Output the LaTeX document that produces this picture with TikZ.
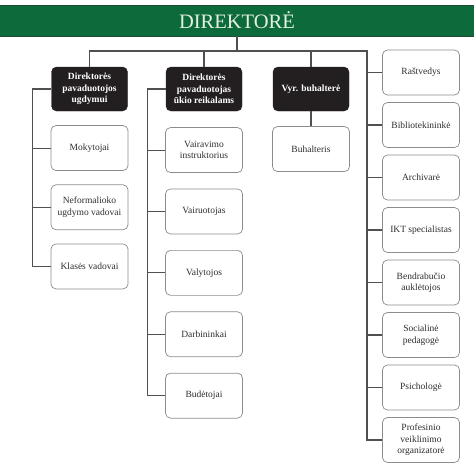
\documentclass[tikz,border=0pt]{standalone}
\usepackage{fontspec}
\setmainfont{Liberation Serif}
\usepackage{tikz}
\usetikzlibrary{positioning}

\definecolor{dirgreen}{HTML}{0D6B3B}
\definecolor{dirframe}{HTML}{1F4A33}
\definecolor{headtext}{HTML}{E6EFE2}
\definecolor{chief}{HTML}{231F20}
\definecolor{boxline}{HTML}{8C8C8C}
\definecolor{linkline}{HTML}{505050}
\definecolor{stafftext}{HTML}{2E2E2E}

\tikzset{
  head/.style={draw=dirframe, fill=dirgreen, line width=0.8pt, minimum width=478pt,
    minimum height=31pt, text=headtext, font=\fontsize{20.5}{24}\selectfont},
  chiefbox/.style={draw=chief, fill=chief, rounded corners=5pt, minimum width=76pt,
    minimum height=44pt, inner sep=2pt, align=center, text=white,
    font=\fontsize{9.5}{11.5}\selectfont\bfseries},
  staffbox/.style={draw=boxline, fill=white, line width=0.7pt, rounded corners=5pt,
    minimum width=77pt, minimum height=45pt, inner sep=2pt, align=center,
    text=stafftext, font=\fontsize{9.5}{11.5}\selectfont},
  link/.style={draw=linkline, line width=1.1pt},
}

\begin{document}
\begin{tikzpicture}[x=1pt, y=-1pt, node distance=15.7pt]
	\useasboundingbox (0,0) rectangle (474,474);

	\node[head]     (DIR)  at (237,20.5) {DIREKTORĖ};
	\node[chiefbox] (UGD)  at (89.5,89)  {Direktorės\\pavaduotojos\\ugdymui};
	\node[chiefbox] (UKIO) at (204,89)   {Direktorės\\pavaduotojas\\ūkio reikalams};
	\node[chiefbox] (BUH)  at (311,89)   {Vyr. buhalterė};

	% ugdymas
	\node[staffbox] (MOK) [below=14pt of UGD]   {Mokytojai};
	\node[staffbox] (NEF) [below=13.5pt of MOK] {Neformalioko\\ugdymo vadovai};
	\node[staffbox] (KLA) [below=13.5pt of NEF] {Klasės vadovai};

	% ukio reikalai
	\node[staffbox] (VAI) [below=16pt of UKIO] {Vairavimo\\instruktorius};
	\node[staffbox] (VAR) [below=of VAI] {Vairuotojas};
	\node[staffbox] (VAL) [below=of VAR] {Valytojos};
	\node[staffbox] (DAR) [below=of VAL] {Darbininkai};
	\node[staffbox] (BUD) [below=of DAR] {Budėtojai};

	\node[staffbox] (BHL) [below=15pt of BUH] {Buhalteris};

	% tiesiogiai direktorei
	\node[staffbox] (RAS) at (421,72.5)        {Raštvedys};
	\node[staffbox] (BIB) [below=6.8pt of RAS] {Bibliotekininkė};
	\node[staffbox] (ARC) [below=6.8pt of BIB] {Archivarė};
	\node[staffbox] (IKT) [below=6.8pt of ARC] {IKT specialistas};
	\node[staffbox] (BEN) [below=6.8pt of IKT] {Bendrabučio\\auklėtojos};
	\node[staffbox] (SOC) [below=6.8pt of BEN] {Socialinė\\pedagogė};
	\node[staffbox] (PSI) [below=6.8pt of SOC] {Psichologė};
	\node[staffbox] (PRO) [below=6.8pt of PSI] {Profesinio\\veiklinimo\\organizatorė};

	\coordinate (BUS)   at (237,51);
	\coordinate (SPINE) at (367,51);
	\coordinate[left=19pt of UGD.west]  (UGDL);
	\coordinate[left=18pt of UKIO.west] (UKIOL);

	\draw[link] (DIR.south) -- (BUS);
	\draw[link] (UGD.north) |- (SPINE) |- (PRO.west);
	\draw[link] (UGD.west) -- (UGDL) |- (KLA.west);
	\draw[link] (UKIO.west) -- (UKIOL) |- (BUD.west);

	\path[link] (UKIO.north) edge (UKIO.north |- BUS)
			(BUH.north) edge (BUH.north |- BUS)
			(BUH.south) edge (BHL.north)
			(UGDL |- MOK.west) edge (MOK.west)
			(UGDL |- NEF.west) edge (NEF.west)
			(UKIOL |- VAI.west) edge (VAI.west)
			(UKIOL |- VAR.west) edge (VAR.west)
			(UKIOL |- VAL.west) edge (VAL.west)
			(UKIOL |- DAR.west) edge (DAR.west)
			(SPINE |- RAS.west) edge (RAS.west)
			(SPINE |- BIB.west) edge (BIB.west)
			(SPINE |- ARC.west) edge (ARC.west)
			(SPINE |- IKT.west) edge (IKT.west)
			(SPINE |- BEN.west) edge (BEN.west)
			(SPINE |- SOC.west) edge (SOC.west)
			(SPINE |- PSI.west) edge (PSI.west);
\end{tikzpicture}
\end{document}
